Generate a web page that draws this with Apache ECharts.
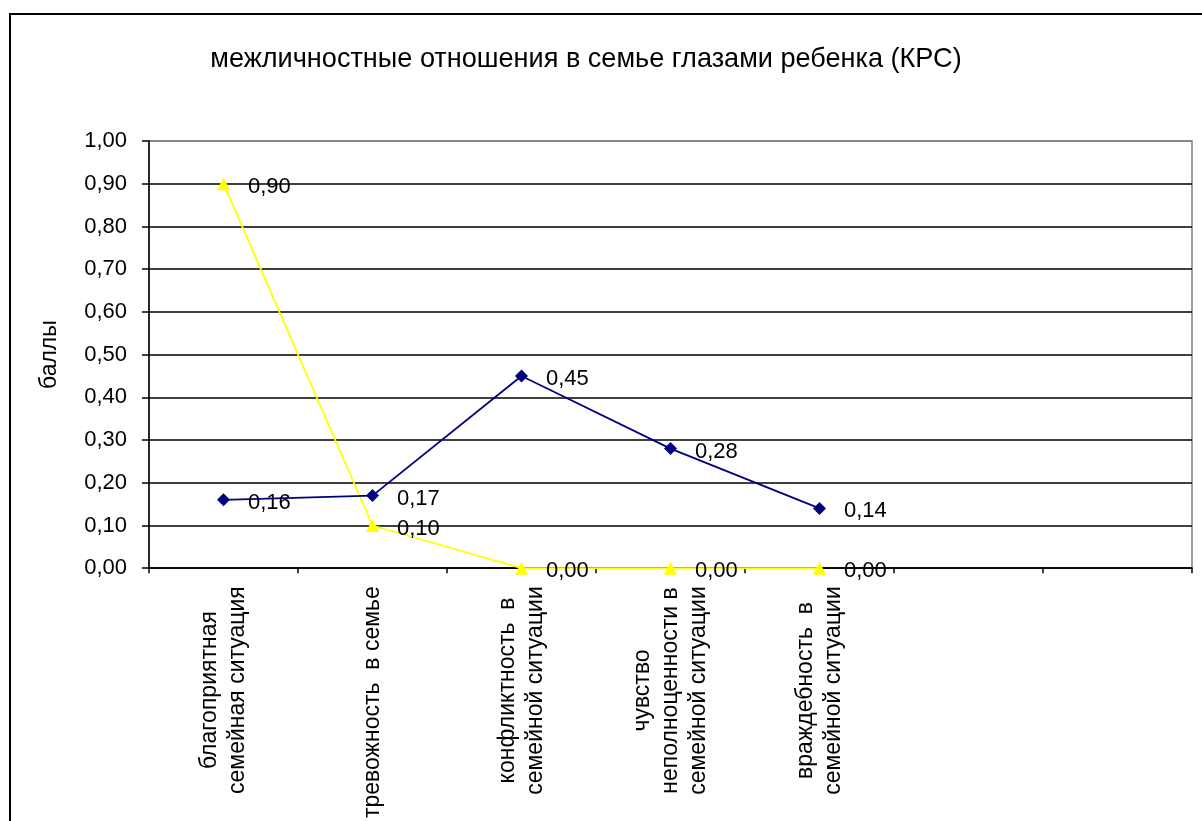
<!DOCTYPE html>
<html>
<head>
<meta charset="utf-8">
<script src="https://cdn.jsdelivr.net/npm/echarts@6/dist/echarts.min.js"></script>
<style>
html,body{margin:0;padding:0;background:#fff;}
#c{width:1202px;height:821px;}
</style>
</head>
<body>
<div id="c"></div>
<script>
const titleText = 'межличностные отношения в семье глазами ребенка (КРС)';
const yAxisName = 'баллы';
const categories = [
  'благоприятная\nсемейная ситуация',
  'тревожность  в семье',
  'конфликтность  в\nсемейной ситуации',
  'чувство\nнеполноценности в\nсемейной ситуации',
  'враждебность  в\nсемейной ситуации',
  '',
  ''
];
const seriesBlue = [0.16, 0.17, 0.45, 0.28, 0.14];
const seriesYellow = [0.90, 0.10, 0.00, 0.00, 0.00];
const yTicks = { min: 0, max: 1, interval: 0.1 };

const FONT = 'Liberation Sans, Arial, sans-serif';
const fmt = v => Number(v).toFixed(2).replace('.', ',');

const chart = echarts.init(document.getElementById('c'));
const splitColors = [];
for (let i = 0; i < 10; i++) splitColors.push('#000');
splitColors.push('#808080');

chart.setOption({
  backgroundColor: '#fff',
  animation: false,
  title: {
    text: titleText,
    left: 581, top: 41, textAlign: 'center',
    textStyle: { fontFamily: FONT, fontSize: 27.1, fontWeight: 'normal', color: '#000' }
  },
  graphic: [{
    type: 'rect', shape: { x: 10, y: 14, width: 1300, height: 900 },
    style: { fill: 'none', stroke: '#000', lineWidth: 2 }, z: -1
  }],
  grid: { left: 149, top: 141, right: 10, bottom: 251, show: true, borderColor: '#808080', borderWidth: 1.5, backgroundColor: 'transparent' },
  xAxis: {
    type: 'category',
    data: categories,
    boundaryGap: true,
    axisLine: { lineStyle: { color: '#000', width: 1.5 } },
    axisTick: { show: true, length: 5, lineStyle: { color: '#000', width: 1.5 } },
    axisLabel: {
      interval: 0, rotate: 90, margin: 18, color: '#000',
      fontFamily: FONT, fontSize: 23, lineHeight: 28,
      formatter: v => v.split('\n').map(l => '{c|' + l + '}').join('\n'),
      rich: { c: { align: 'center', fontFamily: FONT, fontSize: 23, lineHeight: 28, color: '#000' } }
    }
  },
  yAxis: {
    type: 'value', min: yTicks.min, max: yTicks.max, interval: yTicks.interval,
    name: yAxisName, nameLocation: 'middle', nameGap: 88, nameRotate: 90,
    nameTextStyle: { fontFamily: FONT, fontSize: 23, color: '#000' },
    axisLine: { show: true, lineStyle: { color: '#000', width: 1.5 } },
    axisTick: { show: true, length: 7, lineStyle: { color: '#000', width: 1.5 } },
    axisLabel: { margin: 22, color: '#000', fontFamily: FONT, fontSize: 22, formatter: fmt },
    splitLine: { show: true, lineStyle: { color: splitColors, width: 1.5 } }
  },
  series: [
    {
      type: 'line', data: seriesBlue, color: '#000080',
      symbol: 'diamond', symbolSize: 13,
      lineStyle: { color: '#000080', width: 1.8 },
      itemStyle: { color: '#000080' },
      label: { show: true, position: 'right', distance: 18, offset: [0, 3], formatter: p => fmt(p.value),
        fontFamily: FONT, fontSize: 22, color: '#000' },
      z: 3
    },
    {
      type: 'line', data: seriesYellow, color: '#FFFF00',
      symbol: 'triangle', symbolSize: 13,
      lineStyle: { color: '#FFFF00', width: 1.8 },
      itemStyle: { color: '#FFFF00' },
      label: { show: true, position: 'right', distance: 18, offset: [0, 3], formatter: p => fmt(p.value),
        fontFamily: FONT, fontSize: 22, color: '#000' },
      z: 2
    }
  ]
});
</script>
</body>
</html>
